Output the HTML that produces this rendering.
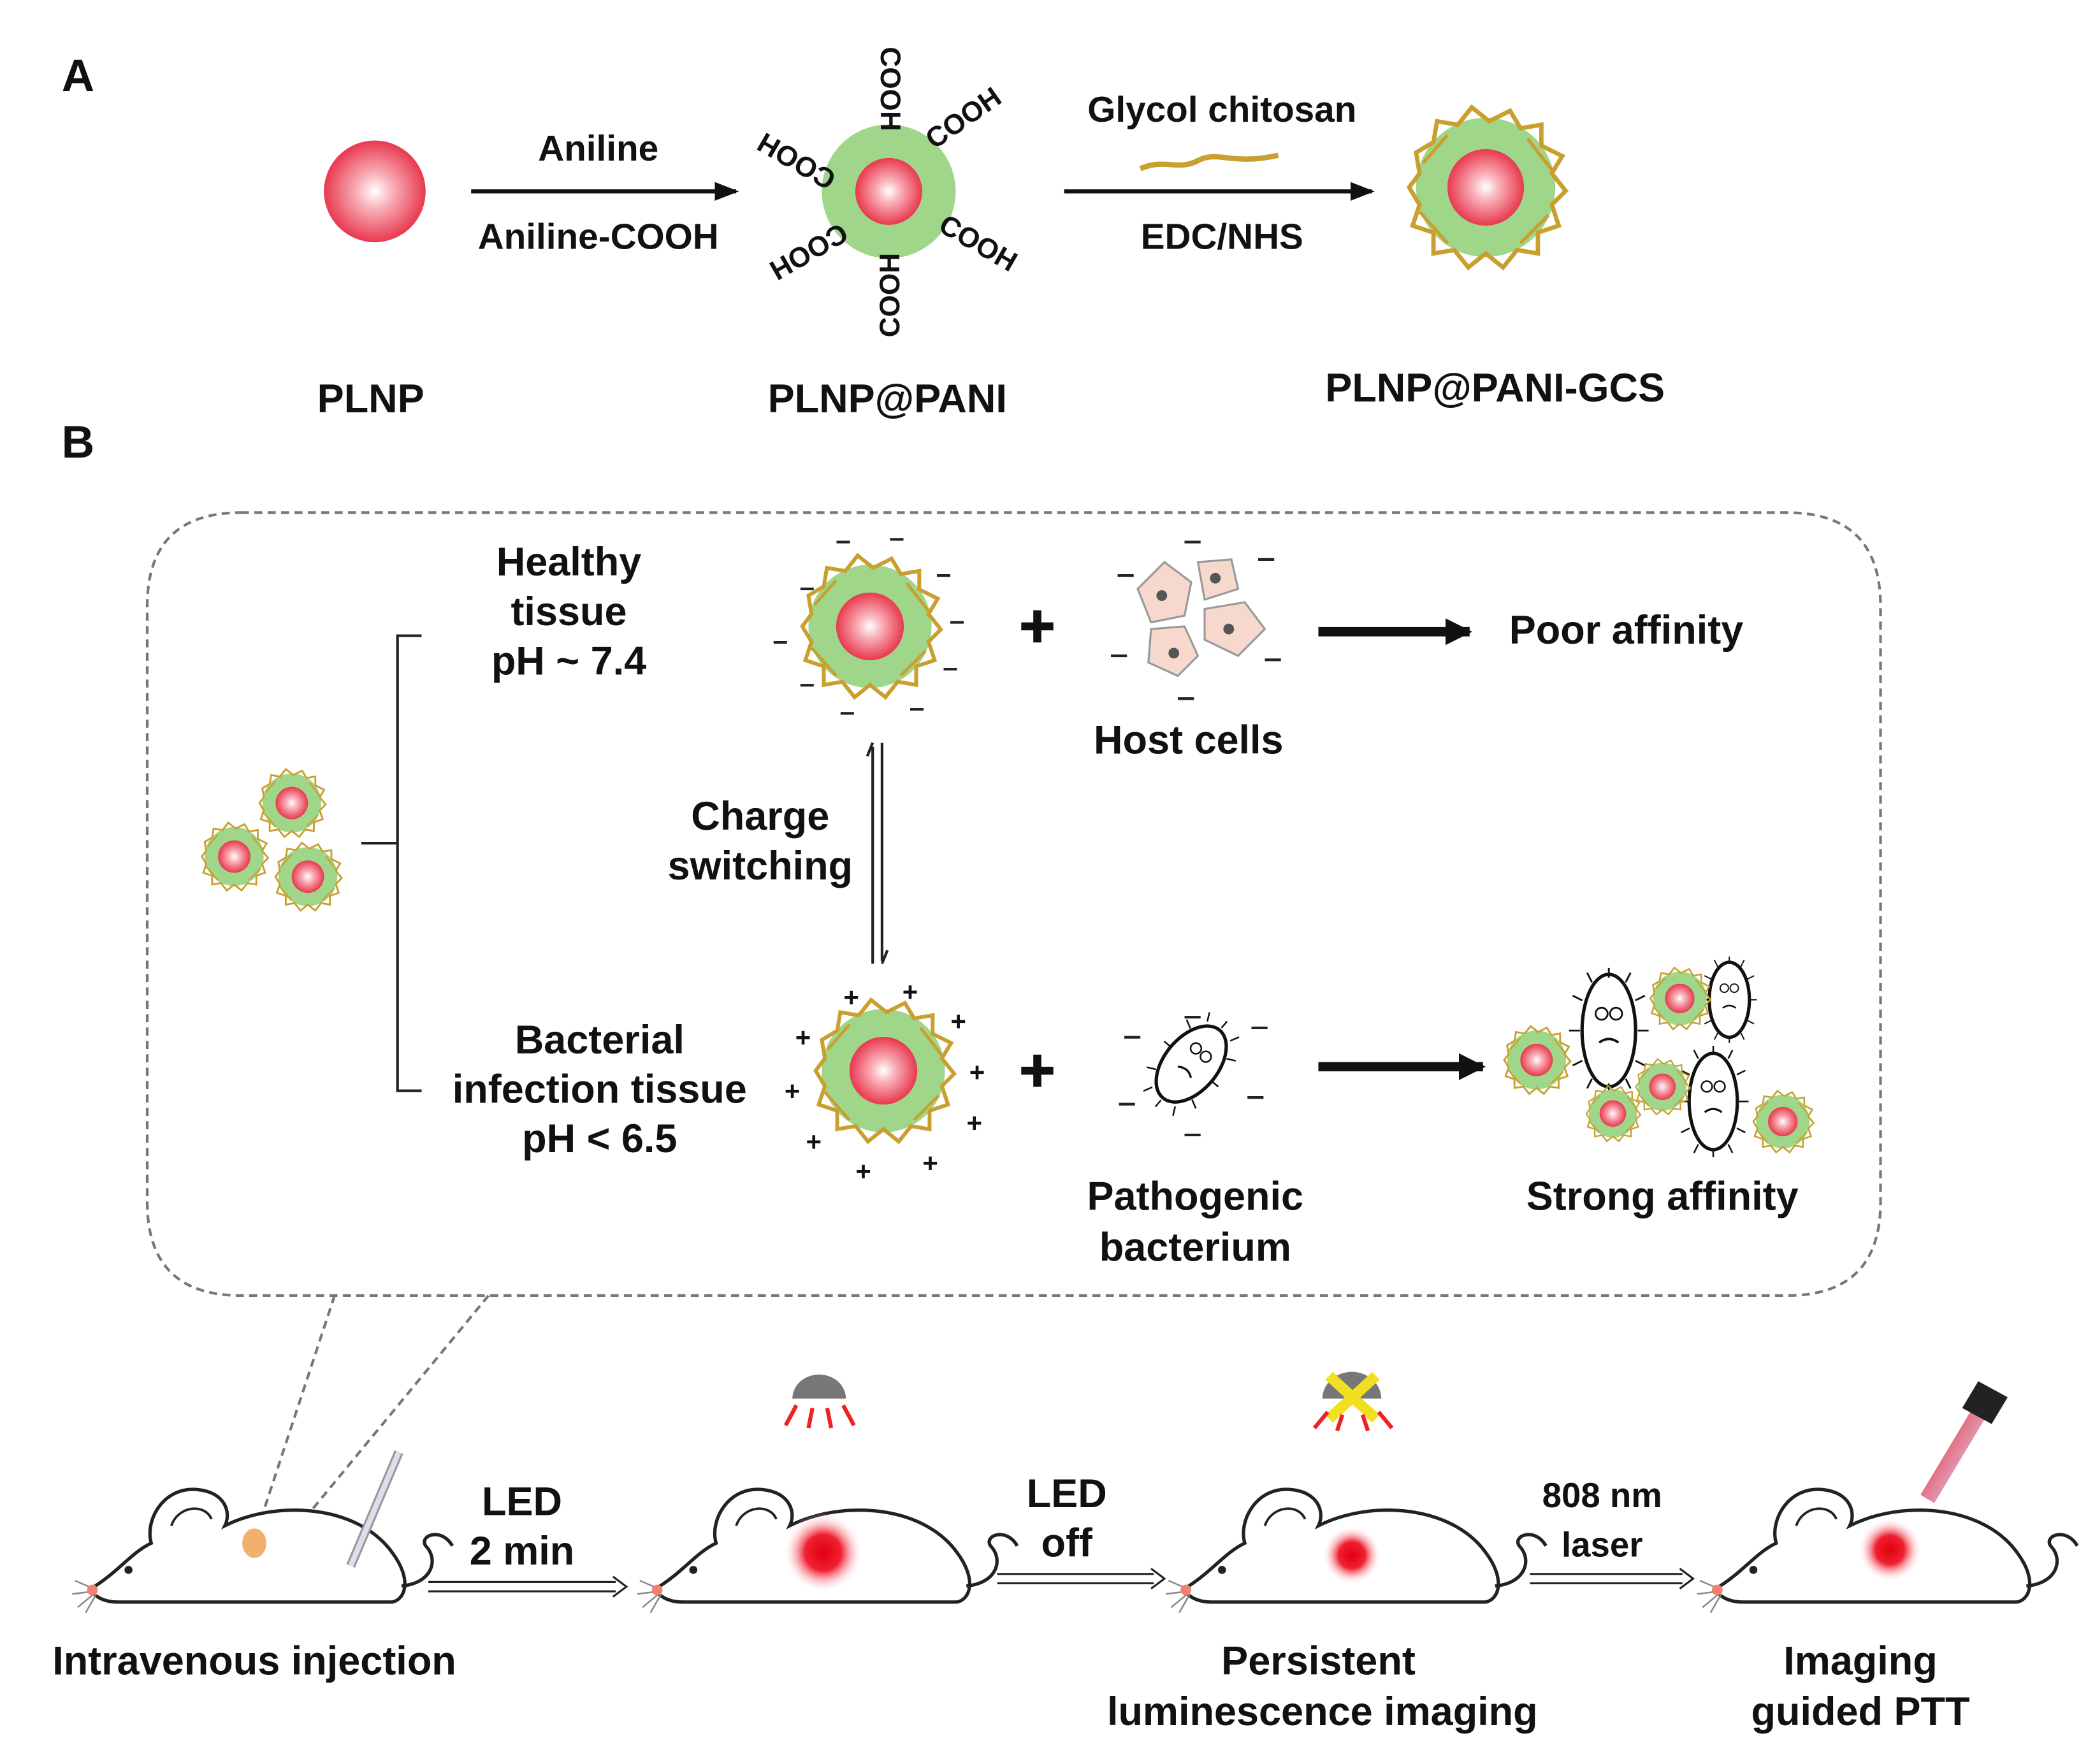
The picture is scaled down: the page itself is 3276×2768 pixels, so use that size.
<!DOCTYPE html>
<html><head><meta charset="utf-8"><style>
html,body{margin:0;padding:0;background:#fff;}
svg{display:block;}
text{font-family:"Liberation Sans",sans-serif;font-weight:bold;fill:#111;}
</style></head><body>
<svg width="3276" height="2768" viewBox="0 0 1560 1318" preserveAspectRatio="none" xmlns="http://www.w3.org/2000/svg">
<defs>
<radialGradient id="rs" cx="0.5" cy="0.5" r="0.5"><stop offset="0" stop-color="#fff"/><stop offset="0.35" stop-color="#f9b0b8"/><stop offset="1" stop-color="#e8384e"/></radialGradient>
<radialGradient id="glow" cx="0.5" cy="0.5" r="0.5"><stop offset="0" stop-color="#e00010"/><stop offset="0.45" stop-color="#f02030"/><stop offset="1" stop-color="#fff" stop-opacity="0"/></radialGradient>
<linearGradient id="beam" x1="0" y1="0" x2="1" y2="1"><stop offset="0" stop-color="#e00"/><stop offset="1" stop-color="#c8c8ff" stop-opacity="0.6"/></linearGradient>
<marker id="ah" markerUnits="userSpaceOnUse" markerWidth="18" markerHeight="14" refX="16" refY="7" orient="auto"><path d="M0,0 L18,7 L0,14z" fill="#111"/></marker>
<marker id="ah2" markerUnits="userSpaceOnUse" markerWidth="20" markerHeight="20" refX="18" refY="10" orient="auto"><path d="M0,0 L20,10 L0,20z" fill="#111"/></marker>
<g id="np">
<circle r="40" fill="#9fd68a"/>
<path d="M-44,0 L-38,-8 L-40,-20 L-30,-26 L-28,-38 L-16,-36 L-8,-46 L2,-38 L14,-44 L20,-34 L32,-36 L32,-24 L44,-18 L38,-8 L46,2 L38,10 L42,22 L30,26 L30,38 L18,36 L10,46 L0,38 L-10,46 L-18,36 L-30,38 L-30,26 L-42,22 L-38,10 Z" fill="none" stroke="#c9a030" stroke-width="2.5"/>
<path d="M-36,-14 L-22,-30 M24,-28 L38,-10 M36,16 L20,32 M-22,32 L-38,14" stroke="#c9a030" stroke-width="2" fill="none"/>
<circle r="22" fill="url(#rs)"/>
</g>
<g id="mouse" fill="none" stroke="#222" stroke-width="2.5">
<path d="M0,82 C20,70 30,55 45,48 C40,30 55,5 80,8 C100,10 105,25 100,35 C140,15 200,20 225,55 C240,75 235,90 225,92 L20,92 C10,92 2,88 0,82 Z" fill="#fff"/>
<path d="M232,80 C255,78 260,60 250,50 C245,42 262,36 270,50"/>
<path d="M60,35 C65,20 85,18 90,30" stroke-width="1.8"/>
<path d="M2,82 L-12,76 M2,84 L-14,86 M2,86 L-10,96 M4,86 L-4,100" stroke="#888" stroke-width="1.2"/>
<circle cx="28" cy="68" r="3" fill="#222" stroke="none"/>
<circle cx="1" cy="83" r="4" fill="#f08070" stroke="none"/>
</g>
<g id="bac" stroke="#111" fill="none">
<path d="M0,-44 l0,-8 M14,-40 l4,-8 M-14,-40 l-4,-8 M22,-25 l8,-4 M-22,-25 l-8,-4 M24,0 l9,0 M-24,0 l-9,0 M22,25 l8,4 M-22,25 l-8,4 M14,40 l4,8 M-14,40 l-4,8 M0,44 l0,8" stroke-width="1.5"/>
<circle cx="-6" cy="-14" r="5" stroke-width="1.5"/><circle cx="6" cy="-14" r="5" stroke-width="1.5"/>
<path d="M-8,10 Q0,4 8,10" stroke-width="2"/>
</g>
</defs>

<text x="46" y="68" font-size="34">A</text>
<text x="46" y="342" font-size="34">B</text>

<circle cx="280" cy="143" r="38" fill="url(#rs)"/>
<line x1="352" y1="143" x2="550" y2="143" stroke="#111" stroke-width="3" marker-end="url(#ah)"/>
<text x="447" y="120" font-size="27" text-anchor="middle">Aniline</text>
<text x="447" y="186" font-size="27" text-anchor="middle">Aniline-COOH</text>

<circle cx="664" cy="143" r="50" fill="#9fd68a"/>
<circle cx="664" cy="143" r="25" fill="url(#rs)"/>
<g font-size="21">
<text x="0" y="0" transform="translate(658,35) rotate(90)">COOH</text>
<text x="0" y="0" transform="translate(672,252) rotate(-90)">COOH</text>
<text x="0" y="0" transform="translate(698,112) rotate(-35)">COOH</text>
<text x="0" y="0" transform="translate(700,172) rotate(30)">COOH</text>
<text x="0" y="0" transform="translate(626,130) rotate(-150)">COOH</text>
<text x="0" y="0" transform="translate(628,166) rotate(150)">COOH</text>
</g>
<line x1="795" y1="143" x2="1025" y2="143" stroke="#111" stroke-width="3" marker-end="url(#ah)"/>
<text x="913" y="91" font-size="27" text-anchor="middle">Glycol chitosan</text>
<path d="M852,126 C870,118 880,128 895,120 C910,112 920,124 955,116" stroke="#c9a030" stroke-width="4" fill="none"/>
<text x="913" y="186" font-size="27" text-anchor="middle">EDC/NHS</text>
<use href="#np" transform="translate(1110,140) scale(1.3)"/>

<text x="277" y="308" font-size="30" text-anchor="middle">PLNP</text>
<text x="663" y="308" font-size="30" text-anchor="middle">PLNP@PANI</text>
<text x="1117" y="300" font-size="30" text-anchor="middle">PLNP@PANI-GCS</text>

<path d="M180,383 L1335,383 Q1405,383 1405,453 L1405,898 Q1405,968 1335,968 L180,968 Q110,968 110,898 L110,453 Q110,383 180,383 Z" fill="none" stroke="#777" stroke-width="2" stroke-dasharray="6,4"/>
<path d="M250,968 L190,1150 M365,968 L215,1150" stroke="#777" stroke-width="2" stroke-dasharray="6,4"/>

<path d="M315,475 L297,475 L297,815 L315,815 M270,630 L297,630" stroke="#222" stroke-width="2" fill="none"/>
<use href="#np" transform="translate(218,600) scale(0.55)"/>
<use href="#np" transform="translate(175,640) scale(0.55)"/>
<use href="#np" transform="translate(230,655) scale(0.55)"/>

<g font-size="30" text-anchor="middle">
<text x="425" y="430">Healthy</text><text x="425" y="467">tissue</text><text x="425" y="504">pH ~ 7.4</text>
<text x="568" y="620">Charge</text><text x="568" y="657">switching</text>
<text x="448" y="787">Bacterial</text><text x="448" y="824">infection tissue</text><text x="448" y="861">pH &lt; 6.5</text>
<text x="888" y="563">Host cells</text>
<text x="1215" y="481">Poor affinity</text>
<text x="893" y="904">Pathogenic</text><text x="893" y="942">bacterium</text>
<text x="1242" y="904">Strong affinity</text>
</g>

<use href="#np" transform="translate(650,468) scale(1.15)"/>
<g stroke="#222" stroke-width="2">
<path d="M598,440h10 M578,480h10 M598,512h10 M628,533h10 M680,530h10 M705,500h10 M710,465h10 M700,430h10 M665,403h10 M625,405h10"/>
</g>
<path d="M763,468h24 M775,456v24" stroke="#111" stroke-width="6"/>
<g stroke="#999" stroke-width="1.5" fill="#f6d9cc">
<path d="M850,440 L870,420 L890,435 L885,460 L860,465 Z"/>
<path d="M895,420 L920,418 L925,440 L900,448 Z"/>
<path d="M900,455 L930,450 L945,470 L925,490 L900,478 Z"/>
<path d="M860,470 L885,468 L895,490 L880,505 L858,495 Z"/>
</g>
<g fill="#555"><circle cx="868" cy="445" r="4"/><circle cx="908" cy="432" r="4"/><circle cx="918" cy="470" r="4"/><circle cx="877" cy="488" r="4"/></g>
<path d="M835,430h12 M830,490h12 M885,405h12 M940,418h12 M945,493h12 M880,522h12" stroke="#222" stroke-width="2"/>
<line x1="985" y1="472" x2="1098" y2="472" stroke="#111" stroke-width="7" marker-end="url(#ah2)"/>

<path d="M652,558 V720 M659,555 V718" stroke="#222" stroke-width="2"/>
<path d="M652,555 l-4,10 M659,720 l4,-10" stroke="#222" stroke-width="2"/>

<use href="#np" transform="translate(660,800) scale(1.15)"/>
<g font-size="20" text-anchor="middle"><text x="636" y="752">+</text><text x="680" y="748">+</text><text x="716" y="770">+</text><text x="600" y="782">+</text><text x="730" y="808">+</text><text x="592" y="822">+</text><text x="728" y="846">+</text><text x="608" y="860">+</text><text x="645" y="882">+</text><text x="695" y="876">+</text></g>
<path d="M763,800h24 M775,788v24" stroke="#111" stroke-width="6"/>
<g stroke="#111" stroke-width="2.5" fill="#fff">
<ellipse cx="890" cy="795" rx="20" ry="33" transform="rotate(40 890 795)"/>
</g>
<g transform="translate(890,795) rotate(40) scale(0.8)"><use href="#bac"/></g>
<path d="M840,775h12 M836,825h12 M885,760h12 M935,768h12 M932,820h12 M885,848h12" stroke="#222" stroke-width="2"/>
<line x1="985" y1="797" x2="1108" y2="797" stroke="#111" stroke-width="7" marker-end="url(#ah2)"/>
<g stroke="#111" stroke-width="2.5" fill="#fff">
<ellipse cx="1202" cy="770" rx="20" ry="42"/>
<ellipse cx="1292" cy="747" rx="15" ry="28"/>
<ellipse cx="1280" cy="823" rx="18" ry="36"/>
</g>
<g transform="translate(1202,770) scale(0.9)"><use href="#bac"/></g>
<g transform="translate(1292,747) scale(0.62)"><use href="#bac"/></g>
<g transform="translate(1280,823) scale(0.8)"><use href="#bac"/></g>
<use href="#np" transform="translate(1148,792) scale(0.55)"/>
<use href="#np" transform="translate(1255,746) scale(0.5)"/>
<use href="#np" transform="translate(1242,812) scale(0.45)"/>
<use href="#np" transform="translate(1205,832) scale(0.45)"/>
<use href="#np" transform="translate(1332,838) scale(0.5)"/>

<use href="#mouse" transform="translate(68,1105)"/>
<use href="#mouse" transform="translate(490,1105)"/>
<use href="#mouse" transform="translate(885,1105)"/>
<use href="#mouse" transform="translate(1282,1105)"/>
<ellipse cx="190" cy="1153" rx="9" ry="11" fill="#f2b070"/>
<path d="M298,1085 L262,1170" stroke="#999" stroke-width="7"/>
<path d="M298,1085 L262,1170" stroke="#dde" stroke-width="4"/>
<circle cx="615" cy="1160" r="30" fill="url(#glow)"/>
<circle cx="1010" cy="1162" r="22" fill="url(#glow)"/>
<circle cx="1412" cy="1158" r="24" fill="url(#glow)"/>

<path d="M592,1045 a20,18 0 0 1 40,0 z" fill="#777"/>
<path d="M595,1050 l-8,15 M607,1052 l-3,15 M618,1052 l3,15 M630,1050 l8,15" stroke="#e22" stroke-width="3"/>
<path d="M988,1045 a22,20 0 0 1 44,0 z" fill="#777"/>
<path d="M993,1028 L1028,1060 M1028,1028 L993,1060" stroke="#f2e020" stroke-width="8"/>
<path d="M992,1055 l-10,12 M1003,1057 l-4,12 M1018,1057 l4,12 M1030,1055 l10,12" stroke="#e22" stroke-width="3"/>
<path d="M1485,1045 L1440,1120" stroke="url(#beam)" stroke-width="12"/>
<path d="M1478,1032 L1500,1044 L1488,1064 L1466,1052 Z" fill="#222"/>

<path d="M320,1182 H460 M320,1189 H460" stroke="#222" stroke-width="1.5"/><path d="M458,1178 L468,1185.5 L458,1193" fill="none" stroke="#222" stroke-width="1.5"/>
<path d="M745,1176 H862 M745,1183 H862" stroke="#222" stroke-width="1.5"/><path d="M860,1172 L870,1179.5 L860,1187" fill="none" stroke="#222" stroke-width="1.5"/>
<path d="M1143,1176 H1257 M1143,1183 H1257" stroke="#222" stroke-width="1.5"/><path d="M1255,1172 L1265,1179.5 L1255,1187" fill="none" stroke="#222" stroke-width="1.5"/>
<g font-size="30" text-anchor="middle">
<text x="390" y="1132">LED</text><text x="390" y="1169">2 min</text>
<text x="797" y="1126">LED</text><text x="797" y="1163">off</text>
<text x="1197" y="1126" font-size="26">808 nm</text><text x="1197" y="1163" font-size="26">laser</text>
<text x="190" y="1251">Intravenous injection</text>
<text x="985" y="1251">Persistent</text><text x="988" y="1289">luminescence imaging</text>
<text x="1390" y="1251">Imaging</text><text x="1390" y="1289">guided PTT</text>
</g>
</svg>
</body></html>
